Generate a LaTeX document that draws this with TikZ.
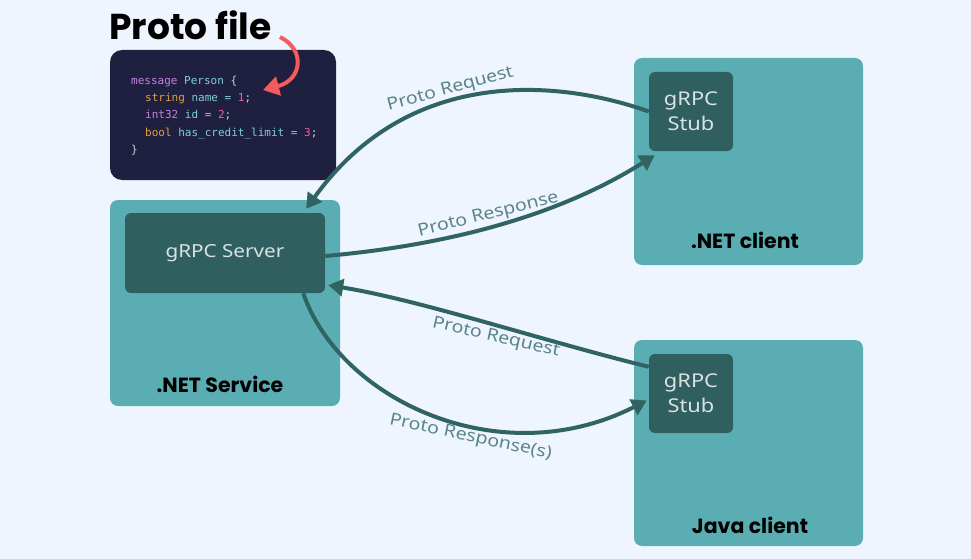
\documentclass[tikz,border=0pt]{standalone}
\usepackage{fontspec}
\usetikzlibrary{arrows.meta}
\newfontfamily\popfont{Poppins}
\newfontfamily\lblfont{Noto Sans}[FakeStretch=1.15]
\newfontfamily\codefont{DejaVu Sans Mono}
\definecolor{bgcol}{HTML}{EEF5FE}
\definecolor{boxcol}{HTML}{5AAEB3}
\definecolor{innercol}{HTML}{305F5F}
\definecolor{flowcol}{HTML}{2F6462}
\definecolor{lblcol}{HTML}{5A8587}
\definecolor{innertext}{HTML}{D8E2E2}
\definecolor{codebg}{HTML}{1F1F3F}
\definecolor{redcol}{HTML}{F25C5C}
\definecolor{kwcol}{HTML}{C97FE0}
\definecolor{typecol}{HTML}{E0A040}
\definecolor{idcol}{HTML}{7FCFD6}
\definecolor{numcol}{HTML}{F0609A}
\definecolor{puncol}{HTML}{D0D0DA}

\begin{document}
\begin{tikzpicture}[x=1pt,y=-1pt,
  outerbox/.style={fill=boxcol, rounded corners=8pt, inner sep=0pt, minimum width=229pt, minimum height=206pt},
  innerbox/.style={fill=innercol, rounded corners=6pt, inner sep=0pt, text=innertext, align=center},
  stubbox/.style={innerbox, minimum width=84pt, minimum height=79pt, font=\lblfont\fontsize{19}{25}\selectfont},
  boxlabel/.style={font=\popfont\bfseries\fontsize{20.5}{24}\selectfont, text=black, inner sep=0pt},
  codeline/.style={anchor=base west, inner sep=0pt, font=\codefont\fontsize{11}{13}\selectfont},
  flow/.style={draw=flowcol, line width=4pt, -{Triangle[length=15pt,width=17pt]}},
  lbl/.style={font=\lblfont\fontsize{17}{20}\selectfont, text=lblcol, inner sep=2pt}]
\fill[bgcol] (0,0) rectangle (971,559);
\useasboundingbox (0,0) rectangle (971,559);

\node[anchor=base west, inner sep=0pt, font=\popfont\bfseries\fontsize{36}{40}\selectfont] (title) at (109,40) {Proto file};
\node[fill=codebg, rounded corners=12pt, minimum width=226pt, minimum height=130pt, inner sep=0pt] (code) at (223,115) {};
\node[codeline] (line1) at (131,84.5) {\color{kwcol}message \color{idcol}Person \color{puncol}\{};
\node[codeline] (line2) at (145,101.8) {\color{typecol}string \color{idcol}name = \color{numcol}1\color{puncol};};
\node[codeline] (line3) at (145,119) {\color{kwcol}int32 \color{idcol}id = \color{numcol}2\color{puncol};};
\node[codeline] (line4) at (145,136.3) {\color{typecol}bool \color{idcol}has\_credit\_limit = \color{numcol}3\color{puncol};};
\node[codeline] (line5) at (131,153.6) {\color{puncol}\}};
\coordinate (redtail) at (280,37);
\coordinate (redtip) at (263,90);
\draw[redcol, line width=4pt, -{Triangle[length=16pt,width=19pt]}] (redtail) .. controls (306,50) and (302,80) .. (redtip);

\node[outerbox, minimum width=230pt] (svc) at (225,303) {};
\node[innerbox, minimum width=200pt, minimum height=80pt, font=\lblfont\fontsize{18}{22}\selectfont] (server) at (225,253) {gRPC Server};
\node[boxlabel] (svclabel) at (220,384) {.NET Service};

\node[outerbox, minimum height=207pt] (netclient) at (748.5,161.5) {};
\node[stubbox] (stubnet) at (691,111.5) {gRPC\\Stub};
\node[boxlabel] (netlabel) at (745,240) {.NET client};

\node[outerbox] (javaclient) at (748.5,443) {};
\node[stubbox] (stubjava) at (691,393.5) {gRPC\\Stub};
\node[boxlabel] (javalabel) at (750,525) {Java client};

\draw[flow] (stubnet.west) .. controls (560,80) and (410,65) .. ([shift={(-19pt,4pt)}]server.north east) node[lbl, pos=0.58, above, rotate=15] (req1) {Proto Request};
\draw[flow] ([yshift=-3pt]server.east) .. controls (450,245) and (560,215) .. ([shift={(6pt,-4pt)}]stubnet.south west) node[lbl, pos=0.47, above, rotate=14] (resp1) {Proto Response};
\draw[flow] ([yshift=-13pt]stubjava.north west) .. controls (540,340) and (420,300) .. ([shift={(3pt,8pt)}]server.south east) node[lbl, pos=0.45, below, rotate=-13] (req2) {Proto Request};
\draw[flow] ([xshift=-22pt]server.south east) .. controls (340,400) and (500,475) .. ([shift={(-2pt,-7pt)}]stubjava.west) node[lbl, pos=0.6, below, rotate=-12] (resp2) {Proto Response(s)};
\end{tikzpicture}
\end{document}
